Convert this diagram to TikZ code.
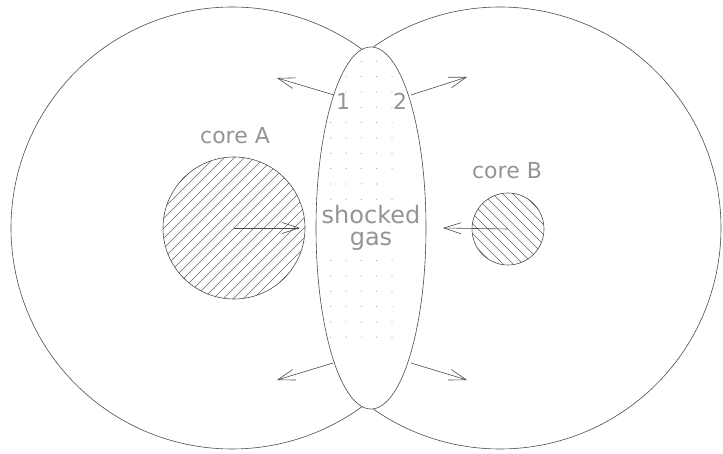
\documentclass[tikz,border=0pt]{standalone}
\usepackage{fontspec}
\setmainfont{DejaVu Sans}
\usetikzlibrary{arrows.meta,positioning,calc}

\begin{document}
\begin{tikzpicture}[x=1pt,y=1pt,>={Straight Barb[length=17pt,width=11pt]},
  outline/.style={draw=black!70,line width=0.6pt},
  flow/.style={->,draw=black!70,line width=0.6pt},
  hatch/.style={draw=black!60,line width=0.5pt},
  lbl/.style={text=black!42,font=\fontsize{22}{22}\selectfont,inner sep=0pt}]
  \useasboundingbox (0,0) rectangle (723,453);
  % the two envelopes, outer parts only
  \coordinate (eA) at (232,225);
  \coordinate (eB) at (500,225);
  \draw[outline] (eA) ++(52.7:221) arc[start angle=52.7,end angle=307.3,radius=221];
  \draw[outline] (eB) ++(127.3:221) arc[start angle=127.3,end angle=-127.3,radius=221];
  % core A
  \coordinate (cA) at (234,225);
  \begin{scope}
    \clip (cA) circle (71);
    \foreach \k in {-150,-140,...,150}
      \draw[hatch] ($(cA)+(\k-80,-80)$) -- ($(cA)+(\k+80,80)$);
  \end{scope}
  \draw[outline] (cA) circle (71);
  % core B
  \coordinate (cB) at (508,224);
  \begin{scope}
    \clip (cB) circle (36);
    \foreach \k in {-80,-70,...,80}
      \draw[hatch] ($(cB)+(\k-50,50)$) -- ($(cB)+(\k+50,-50)$);
  \end{scope}
  \draw[outline] (cB) circle (36);
  % shocked layer
  \coordinate (sg) at (371,225);
  \fill[white] (sg) ellipse (55 and 181);
  \begin{scope}
    \clip (sg) ellipse (55 and 181);
    \foreach \i in {-4,...,4}
      \foreach \j in {-12,...,12}
        \fill[black!35] ($(330.7,299.7)+(15.33*\i,15.33*\j)$) circle (0.6);
    \node[lbl,fill=white,align=center,inner sep=3pt,font=\fontsize{24}{22}\selectfont] (gas) at (sg) {shocked\\gas};
  \end{scope}
  \draw[outline] (sg) ellipse (55 and 181);
  % labels
  \node[lbl] (labA) at (235,317) {core A};
  \node[lbl] (labB) at (507,282) {core B};
  \node[lbl] (n1) at (343,352) {1};
  \node[lbl] (n2) at (400,352) {2};
  % motions
  \coordinate (tA) at (300,225);
  \coordinate (tB) at (443,225);
  \draw[flow] (cA) -- (tA);
  \draw[flow] (cB) -- (tB);
  \coordinate (ul) at (334,358);
  \coordinate (ur) at (411,358);
  \coordinate (ll) at (333,90);
  \coordinate (lr) at (411,90);
  \coordinate (ulE) at (277,375);
  \coordinate (urE) at (467,376);
  \coordinate (llE) at (277,73);
  \coordinate (lrE) at (467,73);
  \draw[flow] (ul) -- (ulE);
  \draw[flow] (ur) -- (urE);
  \draw[flow] (ll) -- (llE);
  \draw[flow] (lr) -- (lrE);
\end{tikzpicture}
\end{document}
